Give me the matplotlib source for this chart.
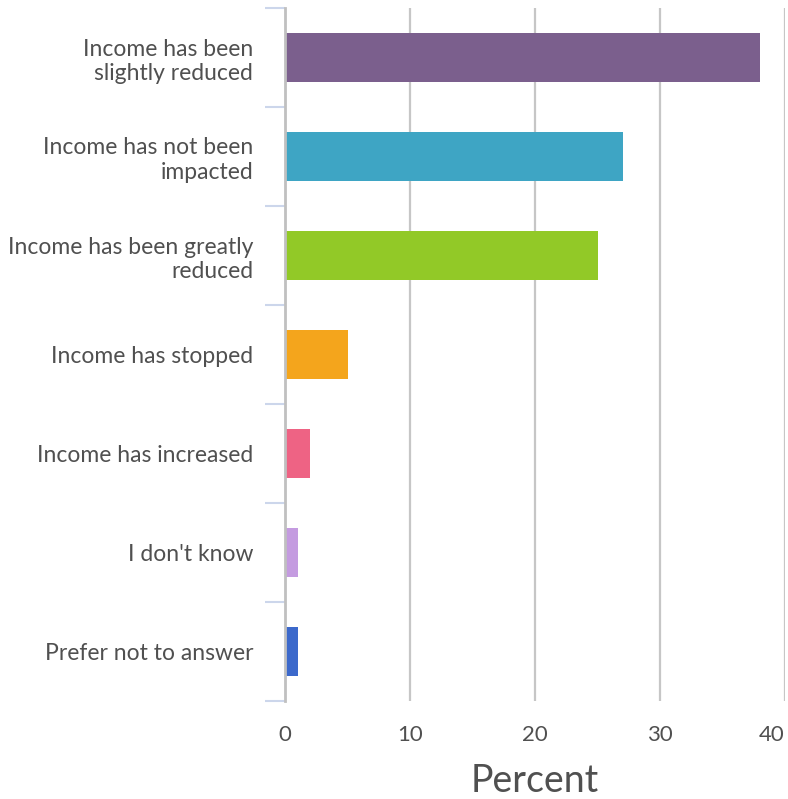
import matplotlib.pyplot as plt
import numpy as np

categories = [
    'Income has been\nslightly reduced',
    'Income has not been\nimpacted',
    'Income has been greatly\nreduced',
    'Income has stopped',
    'Income has increased',
    "I don't know",
    'Prefer not to answer',
]
percent = [38, 27, 25, 5, 2, 1, 1]
colors = ['#7b5f8d', '#3ea5c4', '#92c927', '#f4a51c', '#ee6384', '#c49be0', '#3c69cb']
x_ticks = [0, 10, 20, 30, 40]

plt.rcParams['font.family'] = ['Lato', 'DejaVu Sans']

fig = plt.figure(figsize=(7.88, 7.99), dpi=100)
ax = fig.add_axes([285 / 788, 1 - 701 / 799, 500 / 788, 693 / 799])

y = np.arange(len(categories))
ax.barh(y, percent, height=0.49, color=colors, zorder=3)

ax.set_ylim(len(categories) - 0.5, -0.5)
ax.set_xlim(0, 40)

# category labels, with boundary tick marks between them
ax.set_yticks(y)
ax.set_yticklabels(categories, fontsize=16.5, color='#505050', linespacing=1.2)
ax.tick_params(axis='y', which='major', length=0, pad=23)
ax.set_yticks(np.arange(-0.5, len(categories)), minor=True)
ax.tick_params(axis='y', which='minor', length=14.4, width=1.5, color='#ccd6eb')

ax.set_xticks(x_ticks)
ax.set_xticklabels([str(v) for v in x_ticks], fontsize=16, color='#505050')
ax.get_xticklabels()[-1].set_horizontalalignment('right')
ax.tick_params(axis='x', length=0, pad=17)
ax.grid(axis='x', color='#c6c6c6', linewidth=1.6, zorder=0)

for side in ['top', 'right', 'bottom']:
    ax.spines[side].set_visible(False)
ax.spines['left'].set_color('#c0c0c0')
ax.spines['left'].set_linewidth(2)
ax.spines['left'].set_zorder(4)

fig.text(535 / 788, 1 - 792 / 799, 'Percent', fontsize=27, color='#505050',
         ha='center', va='baseline')

fig.savefig('out.png', dpi=100)
